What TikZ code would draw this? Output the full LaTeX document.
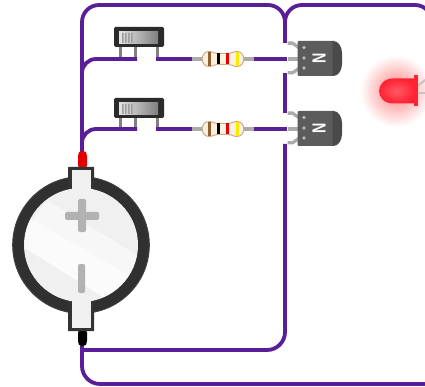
\documentclass[tikz,border=0pt]{standalone}
\usepackage{graphicx}
\usetikzlibrary{calc}
\usepackage{fontspec}
\setmainfont{Liberation Sans}
\definecolor{wirec}{HTML}{591E98}
\definecolor{leadc}{HTML}{ABABAB}
\definecolor{swdark}{HTML}{2B2B2B}
\definecolor{trbody}{HTML}{5C5C5C}
\definecolor{trcap}{HTML}{4A4A4A}
\definecolor{ringc}{HTML}{303030}
\definecolor{cream}{HTML}{FBF1DE}
\definecolor{ledred}{HTML}{FF2233}
\tikzset{
  wire/.style={draw=wirec,line width=3.8pt,rounded corners=17pt},
  sharpwire/.style={draw=wirec,line width=3.8pt},
  lead/.style={draw=leadc,line width=3.6pt},
  leadfill/.style={fill=leadc},
  pinline/.style={draw=black!50,line width=3pt},
  nlabel/.style={text=white,font=\bfseries\fontsize{19}{19}\selectfont,rotate=90,inner sep=0pt},
}
\newcommand{\switchbody}[2]{%
  \begin{scope}[shift={(#1,#2)}]
    \draw[pinline] (6.5,18) -- (6.5,31) (21.5,18) -- (21.5,31) (43.5,18) -- (43.5,31);
    \fill[swdark,rounded corners=1.5pt] (0,0) rectangle (50,20);
    \shade[left color=black!10,middle color=white,right color=black!50] (5,5) rectangle (44,17);
    \fill[black!38] (8,6) rectangle (9.6,16) (11,6) rectangle (12.6,16) (14,6) rectangle (15.6,16) (17,6) rectangle (18.6,16);
  \end{scope}}
\newcommand{\resistorbody}[2]{%
  \begin{scope}[shift={(#1,#2)}]
    \draw[lead] (-11,0) -- (53,0);
    \fill[fill=cream,draw=black!18!orange!35!white!85!black,line width=1pt]
      (7,-7.5) .. controls (11,-7.5) and (12,-5.5) .. (15,-5.5) -- (27,-5.5) .. controls (30,-5.5) and (31,-7.5) .. (35,-7.5)
      .. controls (44,-7.5) and (44,7.5) .. (35,7.5) .. controls (31,7.5) and (30,5.5) .. (27,5.5) -- (15,5.5)
      .. controls (12,5.5) and (11,7.5) .. (7,7.5) .. controls (-2,7.5) and (-2,-7.5) .. (7,-7.5) -- cycle;
    \fill[brown!75!black] (5.5,-7.2) rectangle (8.5,7.2);
    \fill[black] (14.5,-5.5) rectangle (17.5,5.5);
    \fill[red!90!black] (23.5,-5.5) rectangle (26.5,5.5);
    \fill[yellow!92!orange] (33.5,-7.2) rectangle (36.5,7.2);
  \end{scope}}
\newcommand{\transistorbody}[3]{%
  \begin{scope}[shift={(#1,#2)}]
    \draw[lead] (-10,18) -- (2,18);
    \fill[leadfill] (-10,0.5) -- (-4.5,0.5) -- (2,5) -- (2,9) -- (-5.5,3.8) -- (-10,3.8) -- cycle;
    \fill[leadfill] (-10,33.5) -- (-4.5,33.5) -- (2,29) -- (2,25) -- (-5.5,30.2) -- (-10,30.2) -- cycle;
    \fill[trbody,rounded corners=1pt] (0,0) rectangle (37,35);
    \fill[trcap] (35,0) -- (36,0) .. controls (41,0) and (44.5,6) .. (44.5,12) -- (44.5,23) .. controls (44.5,29) and (41,35) .. (36,35) -- (35,35) -- cycle;
    \fill[black!28] (6.5,6.5) circle (1.9) (6.5,17) circle (1.9) (6.5,27) circle (1.9);
    \node[nlabel] (#3) at (21.5,17.5) {\scalebox{0.75}[1]{N}};
  \end{scope}}
\begin{document}
\begin{tikzpicture}[x=1pt,y=-1pt]
\useasboundingbox (0,0) rectangle (425,387);
\coordinate (bplus) at (82,152);
\coordinate (bminus) at (82,344);
\coordinate (tl) at (82,5);
\coordinate (tm) at (285,5);
\coordinate (tr) at (432,5);
\coordinate (trd) at (432,40);
\coordinate (jt) at (285,24);
\coordinate (e1t) at (285,43);
\coordinate (c1b) at (285,73);
\coordinate (e2t) at (285,113);
\coordinate (c2b) at (285,144);
\coordinate (br) at (285,350);
\coordinate (bl) at (82,350);
\coordinate (bb) at (82,384);
\coordinate (bre) at (426,384);
\coordinate (j1) at (82,75);
\coordinate (j2) at (82,145);
\coordinate (s1a) at (137,59);
\coordinate (s1b) at (156,59);
\coordinate (r1a) at (192,59);
\coordinate (r1b) at (254,59);
\coordinate (q1b) at (287,59);
\coordinate (s2a) at (137,129);
\coordinate (s2b) at (156,129);
\coordinate (r2a) at (192,129);
\coordinate (r2b) at (254,129);
\coordinate (q2b) at (287,129);
\switchbody{114}{27}
\switchbody{114}{98}
\resistorbody{202}{59}
\resistorbody{202}{129}
\transistorbody{297.5}{41}{n1}
\transistorbody{297.5}{111}{n2}
\draw[wire] (bplus) -- (tl) -- (tm) -- (e1t);
\draw[wire] (jt) -- ($(jt)+(0,-19)$) -- (tr) -- (trd);
\draw[wire,rounded corners=14pt] (j1) |- (s1a);
\draw[wire,rounded corners=14pt] (j2) |- (s2a);
\draw[sharpwire] (s1b) -- (r1a) (r1b) -- (q1b) (s2b) -- (r2a) (r2b) -- (q2b);
\draw[sharpwire] (c1b) -- (e2t);
\draw[wire,rounded corners=18pt] (c2b) -- (br) -- (bl);
\draw[wire,rounded corners=18pt] (bminus) -- (bb) -- (bre);
% battery
\fill[red!90!black,rounded corners=2.5pt] (78,168) -- (78,154) -- (80,151) -- (85,151) -- (87,154) -- (87,168) -- cycle;
\fill[black,rounded corners=2.5pt] (78,330) -- (78,343) -- (80,346) -- (85,346) -- (87,343) -- (87,330) -- cycle;
\fill[ringc,draw=black!75,line width=1pt] (81,245) circle (68.3);
\fill[black!80,rounded corners=.5pt] (68,167) rectangle (94,331);
\fill[white!94!black] (81,245) circle (57);
\begin{scope}
  \clip (81,245) circle (56.5);
  \fill[white!97!black] (46.7,200) -- (137,255) -- (137,280) -- (33,220) -- cycle;
  \fill[white!98.5!black] (33,220) -- (137,280) -- (137,310) -- (103,297) -- (25,248) -- (20,220) -- cycle;
\end{scope}
\fill[white!94!black] (71.5,170.5) rectangle (90.5,200);
\fill[white!94!black] (71.5,290) rectangle (90.5,327.5);
\fill[black!30,rounded corners=1.5pt] (78,199) rectangle (86,232) (65,212) rectangle (99,220);
\fill[black!30,rounded corners=1.5pt] (78,264) rectangle (85,293);
% LED
\shade[inner color=red!50,outer color=white] (396,91) circle (36);
\fill[leadc!70!white] (417,85) -- (425,79) -- (425,81.5) -- (417,87.5) -- cycle;
\fill[leadc!70!white] (417,92) rectangle (425,94);
\fill[ledred] (414,75.5) rectangle (418,106);
\shade[inner color=ledred!75!white,outer color=ledred] (415,78.5) -- (393,78.5) .. controls (384,78.5) and (379,85) .. (379,91) .. controls (379,97) and (384,103.5) .. (393,103.5) -- (415,103.5) -- cycle;
\end{tikzpicture}
\end{document}
